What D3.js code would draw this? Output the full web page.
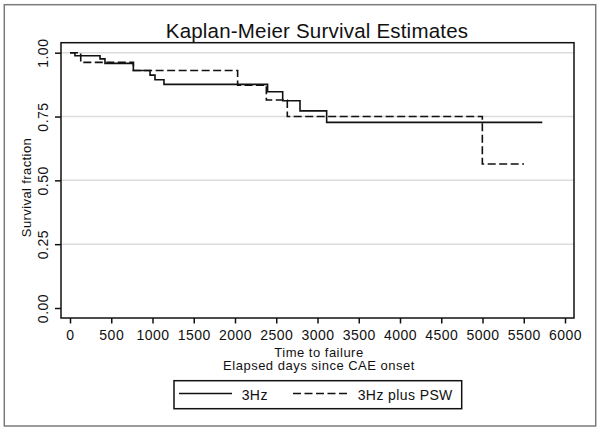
<!DOCTYPE html>
<html>
<head>
<meta charset="utf-8">
<script src="https://cdn.jsdelivr.net/npm/d3@7"></script>
<style>
  html, body { margin: 0; padding: 0; background: #fff; }
  svg { display: block; }
  text { font-family: "Liberation Sans", Arial, sans-serif; fill: #111; }
</style>
</head>
<body>
<svg id="chart" width="601" height="432"></svg>
<script>
// ---- Data ----
const title = "Kaplan-Meier Survival Estimates";
const xTicks = [0, 500, 1000, 1500, 2000, 2500, 3000, 3500, 4000, 4500, 5000, 5500, 6000];
const yTicks = [0, 0.25, 0.5, 0.75, 1.0];
const yGrid = [0.25, 0.5, 0.75, 1.0];
const seriesNames = ["3Hz", "3Hz plus PSW"];
// step points: time (days), survival after that time
const times3Hz = [0, 60, 364, 424, 768, 970, 1030, 1139, 2395, 2578, 2788, 3111, 5725];
const surv3Hz  = [1.0, 0.988, 0.976, 0.958, 0.930, 0.912, 0.894, 0.876, 0.847, 0.812, 0.772, 0.727, 0.727];
const timesPSW = [0, 130, 768, 2032, 2380, 2634, 4998, 5503];
const survPSW  = [1.0, 0.962, 0.930, 0.873, 0.815, 0.750, 0.564, 0.564];

// ---- Layout ----
const svg = d3.select("#chart");
const plot = { left: 61, right: 574, top: 42.7, bottom: 318 };
const x = d3.scaleLinear().domain([0, 6000]).range([70, 565]);
const y = d3.scaleLinear().domain([0, 1]).range([308, 52.7]);

// outer frame
svg.append("rect").attr("x", 4.3).attr("y", 4.7).attr("width", 591.4).attr("height", 421.3)
  .attr("fill", "#fff").attr("stroke", "#7a7a7a").attr("stroke-width", 1.5);

// title
svg.append("text").attr("x", 317).attr("y", 38.3).attr("text-anchor", "middle")
  .style("font-size", "20.5px").style("letter-spacing", "0.2px").text(title);

// gridlines
svg.append("g").selectAll("line").data(yGrid).join("line")
  .attr("x1", plot.left).attr("x2", plot.right)
  .attr("y1", d => y(d)).attr("y2", d => y(d))
  .attr("stroke", "#dcdcdc").attr("stroke-width", 1.5);

// curves
const line = d3.line().x(d => x(d[0])).y(d => y(d[1])).curve(d3.curveStepAfter);
const pts3 = times3Hz.map((t, i) => [t, surv3Hz[i]]);
const ptsP = timesPSW.map((t, i) => [t, survPSW[i]]);
svg.append("path").datum(ptsP).attr("d", line).attr("fill", "none")
  .attr("stroke", "#111").attr("stroke-width", 1.6).attr("stroke-dasharray", "8,3.5");
svg.append("path").datum(pts3).attr("d", line).attr("fill", "none")
  .attr("stroke", "#111").attr("stroke-width", 1.6);

// plot border
svg.append("rect").attr("x", plot.left).attr("y", plot.top)
  .attr("width", plot.right - plot.left).attr("height", plot.bottom - plot.top)
  .attr("fill", "none").attr("stroke", "#111").attr("stroke-width", 1.5);

// x axis
const xAxis = d3.axisBottom(x).tickValues(xTicks).tickSize(5.5).tickPadding(7).tickFormat(d3.format("d"));
const gx = svg.append("g").attr("transform", `translate(0,${plot.bottom})`).call(xAxis);
gx.select(".domain").remove();
gx.selectAll(".tick line").attr("stroke", "#111").attr("stroke-width", 1.5);
gx.selectAll(".tick text").style("font-size", "14px").style("letter-spacing", "0.5px")
  .style("font-family", "Liberation Sans, Arial, sans-serif").attr("fill", "#111");

// y axis
const yAxis = d3.axisLeft(y).tickValues(yTicks).tickSize(6).tickFormat(d3.format(".2f"));
const gy = svg.append("g").attr("transform", `translate(${plot.left},0)`).call(yAxis);
gy.select(".domain").remove();
gy.selectAll(".tick line").attr("stroke", "#111").attr("stroke-width", 1.5);
gy.selectAll(".tick text")
  .attr("x", null).attr("dy", null)
  .attr("transform", "translate(-18.3,0) rotate(-90)")
  .attr("text-anchor", "middle").attr("dominant-baseline", "central")
  .style("font-size", "14px").style("letter-spacing", "0.5px")
  .style("font-family", "Liberation Sans, Arial, sans-serif").attr("fill", "#111");

// axis titles
svg.append("text").attr("transform", "translate(26.7,187.5) rotate(-90)")
  .attr("text-anchor", "middle").attr("dominant-baseline", "central")
  .style("font-size", "13px").style("letter-spacing", "0.4px").text("Survival fraction");
svg.append("text").attr("x", 319).attr("y", 352).attr("text-anchor", "middle")
  .attr("dominant-baseline", "central").style("font-size", "13px").style("letter-spacing", "0.5px")
  .text("Time to failure");
svg.append("text").attr("x", 319).attr("y", 365.5).attr("text-anchor", "middle")
  .attr("dominant-baseline", "central").style("font-size", "13px").style("letter-spacing", "0.5px")
  .text("Elapsed days since CAE onset");

// legend
const lg = svg.append("g");
lg.append("rect").attr("x", 174).attr("y", 380.7).attr("width", 287.7).attr("height", 28)
  .attr("fill", "#fff").attr("stroke", "#111").attr("stroke-width", 1.5);
const legendItems = [
  { name: seriesNames[0], x1: 179, x2: 232, tx: 241.7, dash: null },
  { name: seriesNames[1], x1: 293, x2: 349, tx: 357.7, dash: "8,3.5" }
];
legendItems.forEach(it => {
  lg.append("line").attr("x1", it.x1).attr("x2", it.x2).attr("y1", 393.5).attr("y2", 393.5)
    .attr("stroke", "#111").attr("stroke-width", 1.5).attr("stroke-dasharray", it.dash);
  lg.append("text").attr("x", it.tx).attr("y", 395).attr("dominant-baseline", "central")
    .style("font-size", "14px").style("letter-spacing", "0.4px").text(it.name);
});
</script>
</body>
</html>
